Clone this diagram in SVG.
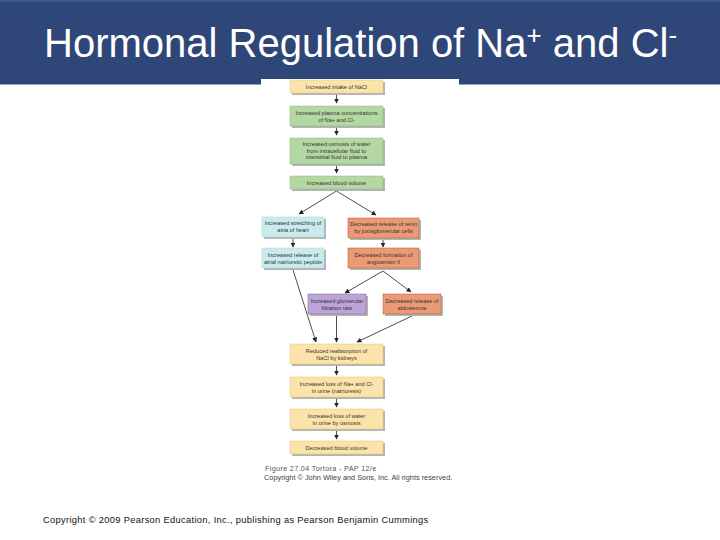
<svg xmlns="http://www.w3.org/2000/svg" width="720" height="540" viewBox="0 0 720 540">
<style>
text{font-family:"Liberation Sans",Arial,sans-serif}
.b{stroke-width:.5}
.y{fill:#fbe3a9;stroke:#e0c88a}
.g{fill:#b3d8a2;stroke:#8fb982}
.c{fill:#c9ebee;stroke:#aad2d6}
.o{fill:#ec9a76;stroke:#a85a3c}
.p{fill:#bca3d8;stroke:#7e62a0}
.s{fill:#b5b5b0}
.t{font-size:5.6px;fill:#333;text-anchor:middle}
.l{stroke:#222;stroke-width:.8;fill:none;marker-end:url(#a)}
</style>
<defs><marker id="a" markerUnits="userSpaceOnUse" markerWidth="5" markerHeight="5" refX="4.5" refY="2.5" orient="auto"><path d="M0 0L5 2.5L0 5z" fill="#222"/></marker></defs>
<rect width="720" height="540" fill="#fff"/>
<g id="header"><rect width="720" height="84.500" fill="#2f4679"/><rect x="0" y="0" width="720" height="1.500" fill="#3a5a9c"/><rect x="261" y="79" width="198" height="6" fill="#fff"/>
<text x="44" y="56.500" font-size="40" fill="#fff">Hormonal Regulation of Na<tspan font-size="26" dy="-13">+</tspan><tspan dy="13"> and Cl</tspan><tspan font-size="26" dy="-13">-</tspan></text></g>
<g id="connectors">
<path class="l" d="M336.500 94V103"/><path class="l" d="M336.500 127V135"/><path class="l" d="M336.500 165V173"/>
<path class="l" d="M336.500 191L299 214"/><path class="l" d="M336.500 191L376 215"/>
<path class="l" d="M293 239V247"/><path class="l" d="M383 240V247"/>
<path class="l" d="M293 270L316 342"/><path class="l" d="M383 271L345 293"/><path class="l" d="M383 271L411 292"/>
<path class="l" d="M336.500 316V342"/><path class="l" d="M412 316L357 342"/>
<path class="l" d="M336.500 366V375"/><path class="l" d="M336.500 399V407"/><path class="l" d="M336.500 431V439"/>
</g>
<g id="n1"><rect class="s" x="292" y="82" width="93" height="13"/><rect class="b y" x="290" y="80" width="93" height="13"/><text class="t" x="336.500" y="88.500">Increased intake of NaCl</text></g>
<g id="n2"><rect class="s" x="292" y="108" width="93" height="20"/><rect class="b g" x="290" y="106" width="93" height="20"/><text class="t" x="336.500" y="114.500">Increased plasma concentrations</text><text class="t" x="336.500" y="121.500">of Na+ and Cl-</text></g>
<g id="n3"><rect class="s" x="292" y="140" width="93" height="26"/><rect class="b g" x="290" y="138" width="93" height="26"/><text class="t" x="336.500" y="146">Increased osmosis of water</text><text class="t" x="336.500" y="152.500">from intracellular fluid to</text><text class="t" x="336.500" y="159">interstitial fluid to plasma</text></g>
<g id="n4"><rect class="s" x="292" y="178" width="93" height="13"/><rect class="b g" x="290" y="176" width="93" height="13"/><text class="t" x="336.500" y="184.500">Increased blood volume</text></g>
<g id="n5"><rect class="s" x="264" y="219" width="62" height="20"/><rect class="b c" x="262" y="217" width="62" height="20"/><text class="t" x="293" y="225">Increased stretching of</text><text class="t" x="293" y="232">atria of heart</text></g>
<g id="n6"><rect class="s" x="350" y="220" width="71" height="20"/><rect class="b o" x="348" y="218" width="71" height="20"/><text class="t" x="383.500" y="226">Decreased release of renin</text><text class="t" x="383.500" y="233">by juxtaglomerular cells</text></g>
<g id="n7"><rect class="s" x="264" y="250" width="62" height="20"/><rect class="b c" x="262" y="248" width="62" height="20"/><text class="t" x="293" y="256.500">Increased release of</text><text class="t" x="293" y="263.500">atrial natriuretic peptide</text></g>
<g id="n8"><rect class="s" x="350" y="250" width="71" height="20"/><rect class="b o" x="348" y="248" width="71" height="20"/><text class="t" x="383.500" y="256.500">Decreased formation of</text><text class="t" x="383.500" y="263.500">angiotensin II</text></g>
<g id="n9"><rect class="s" x="310" y="296" width="58" height="20"/><rect class="b p" x="308" y="294" width="58" height="20"/><text class="t" x="337" y="302.500">Increased glomerular</text><text class="t" x="337" y="309.500">filtration rate</text></g>
<g id="n10"><rect class="s" x="385" y="296" width="58" height="20"/><rect class="b o" x="383" y="294" width="58" height="20"/><text class="t" x="412" y="302.500">Decreased release of</text><text class="t" x="412" y="309.500">aldosterone</text></g>
<g id="n11"><rect class="s" x="292" y="346" width="93" height="20"/><rect class="b y" x="290" y="344" width="93" height="20"/><text class="t" x="336.500" y="353">Reduced reabsorption of</text><text class="t" x="336.500" y="360">NaCl by kidneys</text></g>
<g id="n12"><rect class="s" x="292" y="379" width="93" height="20"/><rect class="b y" x="290" y="377" width="93" height="20"/><text class="t" x="336.500" y="385.500">Increased loss of Na+ and Cl-</text><text class="t" x="336.500" y="392.500">in urine (natriuresis)</text></g>
<g id="n13"><rect class="s" x="292" y="411" width="93" height="20"/><rect class="b y" x="290" y="409" width="93" height="20"/><text class="t" x="336.500" y="417.500">Increased loss of water</text><text class="t" x="336.500" y="424.500">in urine by osmosis</text></g>
<g id="n14"><rect class="s" x="292" y="443" width="93" height="13"/><rect class="b y" x="290" y="441" width="93" height="13"/><text class="t" x="336.500" y="450">Decreased blood volume</text></g>
<g id="captions"><text x="265" y="470.500" font-size="7.200" fill="#555" letter-spacing=".35">Figure 27.04 Tortora - PAP 12/e</text><text x="264" y="479.500" font-size="7.350" fill="#444">Copyright © John Wiley and Sons, Inc. All rights reserved.</text>
<text x="43" y="523" font-size="9.300" fill="#111" letter-spacing=".33">Copyright © 2009 Pearson Education, Inc., publishing as Pearson Benjamin Cummings</text></g>
</svg>
